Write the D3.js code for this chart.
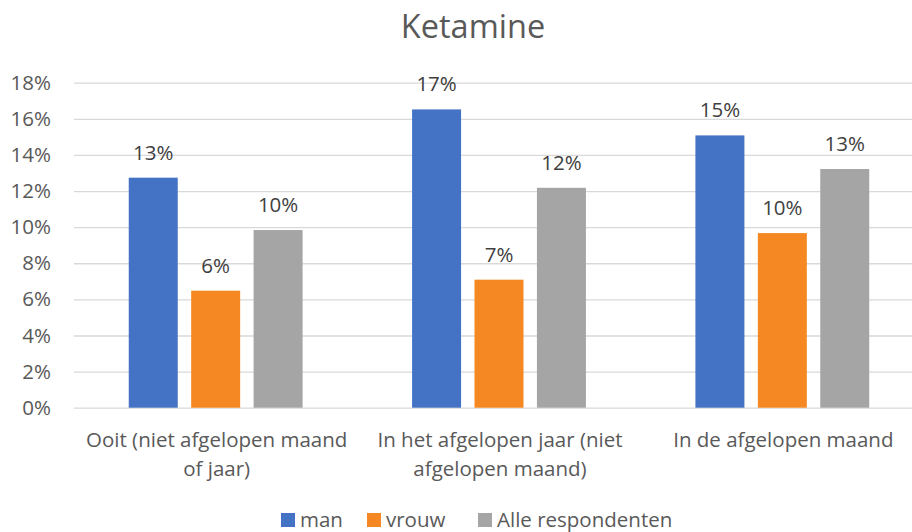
<!DOCTYPE html>
<html><head><meta charset="utf-8">
<script src="https://cdn.jsdelivr.net/npm/d3@7"></script>
<style>body{margin:0;background:#fff}text{font-family:"Open Sans",sans-serif}</style>
</head><body><svg id="c" width="912" height="532"></svg>
<script>
const title = "Ketamine";
const categories = ["Ooit (niet afgelopen maand of jaar)", "In het afgelopen jaar (niet afgelopen maand)", "In de afgelopen maand"];
const seriesNames = ["man", "vrouw", "Alle respondenten"];
const man = [12.74, 16.52, 15.08];
const vrouw = [6.48, 7.09, 9.67];
const alle = [9.84, 12.18, 13.22];
const labelMan = ["13%", "17%", "15%"];
const labelVrouw = ["6%", "7%", "10%"];
const labelAlle = ["10%", "12%", "13%"];
const yTicks = [0, 2, 4, 6, 8, 10, 12, 14, 16, 18];
const colors = ["#4472C4", "#F58822", "#A5A5A5"];

const seriesValues = [man, vrouw, alle];
const seriesLabels = [labelMan, labelVrouw, labelAlle];
const svg = d3.select("#c");
const txt = "#595959";
const fs = 20.5;

const y = d3.scaleLinear().domain([0, 18]).range([407.7, 82.7]);
const x0 = d3.scaleBand().domain(categories).range([74, 924]).paddingInner(0).paddingOuter(0);
const x1 = d3.scaleBand().domain(seriesNames).range([0, x0.bandwidth()]).paddingInner(0.215).paddingOuter(0.877);

// title
svg.append("text").attr("x", 473).attr("y", 38).attr("text-anchor", "middle")
  .attr("font-size", 32.5).attr("fill", txt).text(title);

// grid
const yAxis = d3.axisLeft(y).tickValues(yTicks).tickSize(-(924 - 74)).tickFormat(d => d + "%").tickPadding(23);
const ga = svg.append("g").attr("transform", "translate(74,0)").call(yAxis);
ga.select(".domain").remove();
ga.selectAll(".tick line").attr("stroke", "#D9D9D9").attr("stroke-width", 1.3);
ga.selectAll(".tick text").attr("fill", txt).attr("font-size", fs).attr("font-family", "Open Sans");

// bars
const groups = svg.append("g").selectAll("g").data(categories).join("g")
  .attr("transform", d => `translate(${x0(d)},0)`);
groups.each(function(cat, ci) {
  const g = d3.select(this);
  seriesNames.forEach((s, si) => {
    const v = seriesValues[si][ci];
    g.append("rect").attr("x", x1(s)).attr("width", x1.bandwidth())
      .attr("y", y(v)).attr("height", y(0) - y(v)).attr("fill", colors[si]);
    g.append("text").attr("x", x1(s) + x1.bandwidth() / 2).attr("y", y(v) - 18)
      .attr("text-anchor", "middle").attr("font-size", fs).attr("fill", "#404040")
      .text(seriesLabels[si][ci]);
  });
});

// category labels with wrap
const maxW = 272;
categories.forEach(cat => {
  const t = svg.append("text").attr("text-anchor", "middle").attr("font-size", fs).attr("fill", txt);
  const words = cat.split(" ");
  let lines = [], cur = [];
  const probe = svg.append("text").attr("font-size", fs);
  words.forEach(w => {
    const test = cur.concat([w]).join(" ");
    probe.text(test);
    if (probe.node().getComputedTextLength() > maxW && cur.length) { lines.push(cur.join(" ")); cur = [w]; }
    else cur.push(w);
  });
  lines.push(cur.join(" "));
  probe.remove();
  lines.forEach((l, i) => {
    t.append("tspan").attr("x", x0(cat) + x0.bandwidth() / 2 + 1).attr("y", 447 + i * 28.7).text(l);
  });
});

// legend
const legX = [281, 367, 478];
seriesNames.forEach((s, i) => {
  svg.append("rect").attr("x", legX[i]).attr("y", 513).attr("width", 14).attr("height", 14).attr("fill", colors[i]);
  svg.append("text").attr("x", legX[i] + 19).attr("y", 526.5).attr("font-size", fs).attr("fill", txt).text(s);
});
</script></body></html>
